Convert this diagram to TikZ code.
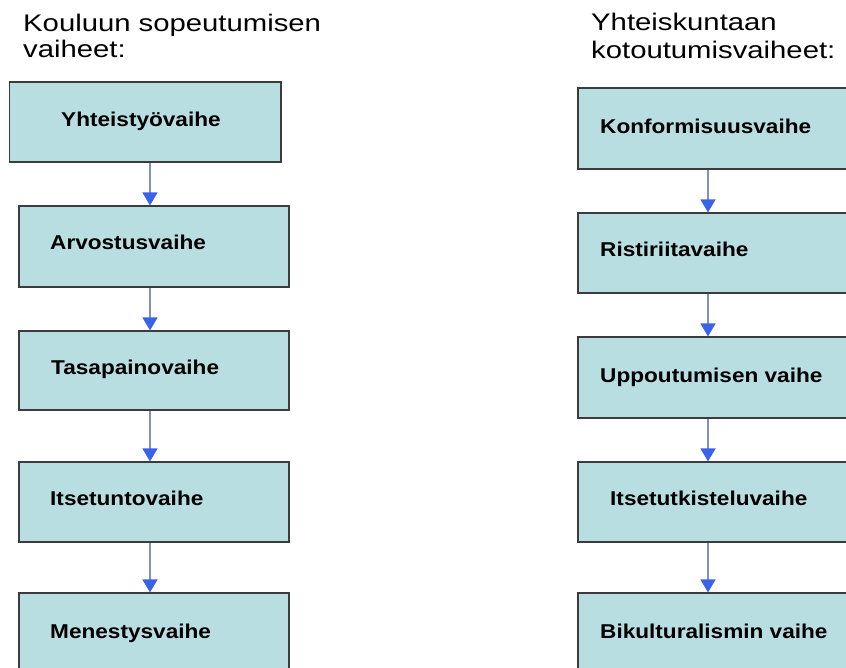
\documentclass[tikz,border=0pt]{standalone}
\usepackage{fontspec}
\setmainfont{Liberation Sans}
\newfontfamily\ttlfont{Liberation Sans}[FakeStretch=1.22]
\newfontfamily\bxfont{Liberation Sans}[FakeStretch=1.13]
\usetikzlibrary{arrows.meta}
\definecolor{boxfill}{HTML}{B9DEE2}
\definecolor{boxline}{HTML}{3C3C3C}
\definecolor{lineblue}{HTML}{8090C4}
\definecolor{headblue}{HTML}{3A63EC}
\tikzset{
  stage/.style={draw=boxline, line width=1.1pt, fill=boxfill, inner sep=0pt},
  lbl/.style={inner sep=0pt, anchor=base west, font=\bxfont\bfseries\fontsize{20}{22}\selectfont},
  ttl/.style={inner sep=0pt, anchor=base west, font=\ttlfont\fontsize{24}{26}\selectfont},
  flow/.style={draw=lineblue, line width=1.4pt, -{Triangle[length=13pt,width=15pt,color=headblue]}}
}
\begin{document}
\begin{tikzpicture}[x=1pt,y=-1pt]
\useasboundingbox (0,0) rectangle (846,668);
\clip (0,0) rectangle (846,668);
\fill[white] (0,0) rectangle (846,668);
% titles
\node[ttl] (tl1) at (23,32) {Kouluun sopeutumisen};
\node[ttl] (tl2) at (23,58) {vaiheet:};
\node[ttl] (tr1) at (591,31) {Yhteiskuntaan};
\node[ttl] (tr2) at (591,59) {kotoutumisvaiheet:};
% left boxes
\node[stage, minimum width=271.5pt, minimum height=80pt] (L1) at (145.25,122) {};
\node[stage, minimum width=270pt, minimum height=81pt] (L2) at (154,246.5) {};
\node[stage, minimum width=270pt, minimum height=79pt] (L3) at (154,370.5) {};
\node[stage, minimum width=270pt, minimum height=80pt] (L4) at (154,502) {};
\node[stage, minimum width=270pt, minimum height=80pt] (L5) at (154,633) {};
% right boxes
\node[stage, minimum width=272pt, minimum height=81pt] (R1) at (714,128.5) {};
\node[stage, minimum width=272pt, minimum height=80pt] (R2) at (714,253) {};
\node[stage, minimum width=272pt, minimum height=81pt] (R3) at (714,377.5) {};
\node[stage, minimum width=272pt, minimum height=80pt] (R4) at (714,502) {};
\node[stage, minimum width=272pt, minimum height=80pt] (R5) at (714,633) {};
% labels
\node[lbl] (l1) at (61,126.7) {Yhteistyövaihe};
\node[lbl] (l2) at (50,250) {Arvostusvaihe};
\node[lbl] (l3) at (51,374) {Tasapainovaihe};
\node[lbl] (l4) at (50,505.7) {Itsetuntovaihe};
\node[lbl] (l5) at (50,638.3) {Menestysvaihe};
\node[lbl] (r1) at (600,133.3) {Konformisuusvaihe};
\node[lbl] (r2) at (600,256.7) {Ristiriitavaihe};
\node[lbl] (r3) at (600,382.3) {Uppoutumisen vaihe};
\node[lbl] (r4) at (610,505.7) {Itsetutkisteluvaihe};
\node[lbl] (r5) at (600,638.3) {Bikulturalismin vaihe};
% arrow axes
\coordinate (ax) at (150,0);
\coordinate (bx) at (708,0);
\draw[flow] (L1.south -| ax) -- (L2.north -| ax);
\draw[flow] (L2.south -| ax) -- (L3.north -| ax);
\draw[flow] (L3.south -| ax) -- (L4.north -| ax);
\draw[flow] (L4.south -| ax) -- (L5.north -| ax);
\draw[flow] (R1.south -| bx) -- (R2.north -| bx);
\draw[flow] (R2.south -| bx) -- (R3.north -| bx);
\draw[flow] (R3.south -| bx) -- (R4.north -| bx);
\draw[flow] (R4.south -| bx) -- (R5.north -| bx);
\end{tikzpicture}
\end{document}
